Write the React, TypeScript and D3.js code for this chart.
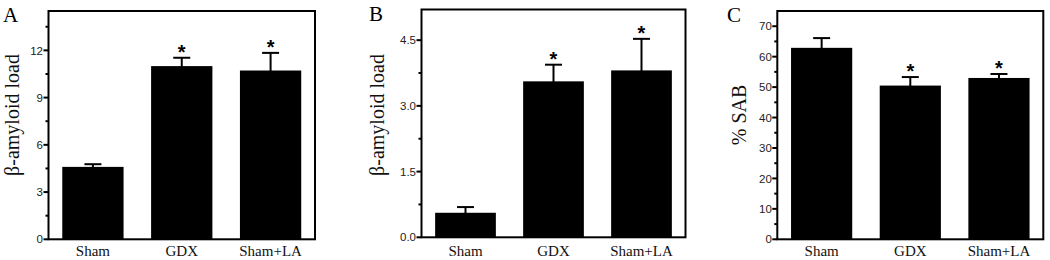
import React from "react";
import * as d3 from "d3";

// ---- data ----
const categories = ["Sham", "GDX", "Sham+LA"];

const loadA = [4.6, 11.0, 10.72];
const semA = [0.17, 0.53, 1.12];
const sigA = [false, true, true];

const loadB = [0.56, 3.56, 3.81];
const semB = [0.13, 0.38, 0.72];
const sigB = [false, true, true];

const sabC = [62.9, 50.5, 53.0];
const semC = [3.2, 2.8, 1.3];
const sigC = [false, true, true];

const majorA = [0, 3, 6, 9, 12];
const minorA = [1.5, 4.5, 7.5, 10.5, 13.5];
const labelsA = ["0", "3", "6", "9", "12"];

const majorB = [0, 1.5, 3, 4.5];
const minorB = [0.75, 2.25, 3.75];
const labelsB = ["0.0", "1.5", "3.0", "4.5"];

const majorC = [0, 10, 20, 30, 40, 50, 60, 70];
const minorC = [5, 15, 25, 35, 45, 55, 65];
const labelsC = ["0", "10", "20", "30", "40", "50", "60", "70"];

const panelLetters = ["A", "B", "C"];
const yTitles = ["β-amyloid load", "β-amyloid load", "% SAB"];
const yMax = [14.5, 5.2, 75];

// ---- layout ----
const layouts = [
  { left: 48.5, right: 315, top: 11, bottom: 239.3, letterX: 3, letterY: 22, titleX: 18.5, titleY: 115 },
  { left: 421.5, right: 685.5, top: 9.5, bottom: 237.3, letterX: 369, letterY: 21, titleX: 384, titleY: 115 },
  { left: 777.3, right: 1043.3, top: 11, bottom: 239.3, letterX: 727, letterY: 22, titleX: 746, titleY: 115 },
];

const panels = [
  { values: loadA, sem: semA, sig: sigA, major: majorA, minor: minorA, labels: labelsA },
  { values: loadB, sem: semB, sig: sigB, major: majorB, minor: minorB, labels: labelsB },
  { values: sabC, sem: semC, sig: sigC, major: majorC, minor: minorC, labels: labelsC },
];

const SERIF = "'Liberation Serif', 'Times New Roman', serif";
const SANS = "'Liberation Sans', Arial, sans-serif";

function Panel({ idx }: { idx: number }) {
  const L = layouts[idx];
  const P = panels[idx];
  const x = d3
    .scaleBand<string>()
    .domain(categories)
    .range([L.left, L.right])
    .paddingInner(0.31)
    .paddingOuter(0.155);
  const y = d3.scaleLinear().domain([0, yMax[idx]]).range([L.bottom, L.top]);
  const bw = x.bandwidth();
  const capW = 17;
  return (
    <g>
      <text x={L.letterX} y={L.letterY} fontFamily={SERIF} fontSize={21} fill="#000">
        {panelLetters[idx]}
      </text>
      <text
        transform={`translate(${L.titleX},${L.titleY}) rotate(-90)`}
        textAnchor="middle"
        fontFamily={SERIF}
        fontSize={20}
        fill="#111"
      >
        {yTitles[idx]}
      </text>
      {/* bars */}
      {categories.map((c, i) => {
        const x0 = x(c)!;
        const cx = x0 + bw / 2;
        const top = y(P.values[i]);
        const errTop = y(P.values[i] + P.sem[i]);
        return (
          <g key={c}>
            <line x1={cx} x2={cx} y1={top + 1} y2={errTop} stroke="#000" strokeWidth={2} />
            <line x1={cx - capW / 2} x2={cx + capW / 2} y1={errTop} y2={errTop} stroke="#000" strokeWidth={2} />
            <rect x={x0} y={top} width={bw} height={L.bottom - top} fill="#000" />
            {P.sig[i] && (
              <text
                x={cx}
                y={errTop + 1}
                textAnchor="middle"
                fontFamily={SANS}
                fontWeight="bold"
                fontSize={20}
                fill="#000"
              >
                *
              </text>
            )}
            <text x={cx} y={256} textAnchor="middle" fontFamily={SERIF} fontSize={15} fill="#111">
              {c}
            </text>
          </g>
        );
      })}
      {/* frame */}
      <rect
        x={L.left}
        y={L.top}
        width={L.right - L.left}
        height={L.bottom - L.top}
        fill="none"
        stroke="#000"
        strokeWidth={2}
      />
      {/* ticks */}
      {P.major.map((t, i) => (
        <g key={"M" + t}>
          <line x1={L.left - 5} x2={L.left} y1={y(t)} y2={y(t)} stroke="#000" strokeWidth={2} />
          <text
            x={L.left - 5.5}
            y={y(t)}
            dy="0.36em"
            textAnchor="end"
            fontFamily={SANS}
            fontSize={11.5}
            fill="#222"
          >
            {P.labels[i]}
          </text>
        </g>
      ))}
      {P.minor.map((t) => (
        <line key={"m" + t} x1={L.left - 3} x2={L.left} y1={y(t)} y2={y(t)} stroke="#000" strokeWidth={2} />
      ))}
    </g>
  );
}

export default function App() {
  return (
    <svg width={1050} height={260} style={{ position: "absolute", left: 0, top: 0, background: "#fff" }}>
      <rect x={0} y={0} width={1050} height={260} fill="#fff" />
      {[0, 1, 2].map((i) => (
        <Panel key={i} idx={i} />
      ))}
    </svg>
  );
}
